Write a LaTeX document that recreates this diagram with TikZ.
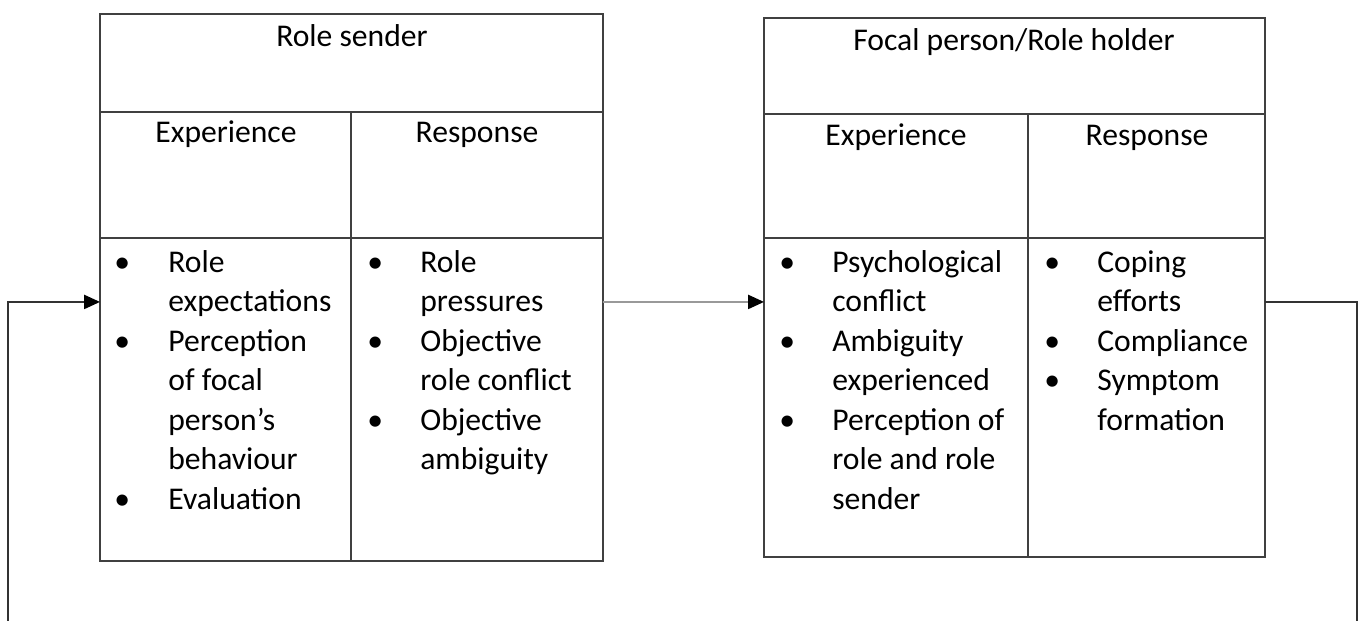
\documentclass[tikz,border=0pt]{standalone}
\usepackage{fontspec}
\setmainfont{Carlito}
\usepackage{tikz}
\usetikzlibrary{
        arrows.meta,
        positioning
    }
\tikzset{>={Triangle[length=9pt,width=8pt,color=black]},shorten >=0pt}
\tikzset{cell/.style={draw=black!75,line width=1pt,rectangle,inner sep=0pt,outer sep=0pt}}
\tikzset{head/.style={anchor=base,inner sep=0pt,font=\fontsize{18}{22.5}\selectfont}}
\tikzset{items/.style={anchor=north west,inner sep=0pt,font=\fontsize{18}{22.5}\selectfont,align=left}}
\tikzset{link/.style={draw=black!40,line width=1pt}}
\tikzset{back/.style={draw=black!80,line width=1pt}}
\newcommand{\bul}{\textbullet}

\begin{document}
\begin{tikzpicture}[x=0.02cm,y=-0.02cm]
\useasboundingbox (0,0) rectangle (1362,621);
    % role sender
    \node[cell,anchor=north west,minimum width=10.06cm,minimum height=1.96cm] (rsTitle) at (100,14) {};
    \node[cell,anchor=north west,minimum width=5.02cm,minimum height=2.52cm] (rsExpHead) at (rsTitle.south west) {};
    \node[cell,anchor=north west,minimum width=5.04cm,minimum height=2.52cm] (rsRespHead) at (rsExpHead.north east) {};
    \node[cell,anchor=north west,minimum width=5.02cm,minimum height=6.46cm] (rsExpBody) at (rsExpHead.south west) {};
    \node[cell,anchor=north west,minimum width=5.04cm,minimum height=6.46cm] (rsRespBody) at (rsRespHead.south west) {};
    \node[head] (rsTitleTxt) at (352,47) {Role sender};
    \node[head] (rsExpTxt) at (226,143) {Experience};
    \node[head] (rsRespTxt) at (477,143) {Response};
    \node[items] (rsExpList) at (114,244) {%
        \begin{tabular}{@{}p{1.08cm}@{}l@{}}
        \bul & Role\\
             & expectations\\
        \bul & Perception\\
             & of focal\\
             & person’s\\
             & behaviour\\
        \bul & Evaluation
        \end{tabular}};
    \node[items] (rsRespList) at (367,244) {%
        \begin{tabular}{@{}p{1.06cm}@{}l@{}}
        \bul & Role\\
             & pressures\\
        \bul & Objective\\
             & role conflict\\
        \bul & Objective\\
             & ambiguity
        \end{tabular}};

    % focal person
    \node[cell,anchor=north west,minimum width=10.02cm,minimum height=1.92cm] (fpTitle) at (764,18) {};
    \node[cell,anchor=north west,minimum width=5.28cm,minimum height=2.48cm] (fpExpHead) at (fpTitle.south west) {};
    \node[cell,anchor=north west,minimum width=4.74cm,minimum height=2.48cm] (fpRespHead) at (fpExpHead.north east) {};
    \node[cell,anchor=north west,minimum width=5.28cm,minimum height=6.38cm] (fpExpBody) at (fpExpHead.south west) {};
    \node[cell,anchor=north west,minimum width=4.74cm,minimum height=6.38cm] (fpRespBody) at (fpRespHead.south west) {};
    \node[head] (fpTitleTxt) at (1014,51) {Focal person/Role holder};
    \node[head] (fpExpTxt) at (896,146) {Experience};
    \node[head] (fpRespTxt) at (1147,146) {Response};
    \node[items] (fpExpList) at (779,244) {%
        \begin{tabular}{@{}p{1.06cm}@{}l@{}}
        \bul & Psychological\\
             & conflict\\
        \bul & Ambiguity\\
             & experienced\\
        \bul & Perception of\\
             & role and role\\
             & sender
        \end{tabular}};
    \node[items] (fpRespList) at (1044,244) {%
        \begin{tabular}{@{}p{1.06cm}@{}l@{}}
        \bul & Coping\\
             & efforts\\
        \bul & Compliance\\
        \bul & Symptom\\
             & formation
        \end{tabular}};

    % links
    \coordinate (fbLeft) at (8,621);
    \coordinate (fbRight) at (1357,621);
    \draw[link,->] ([yshift=-1.28cm]rsRespBody.north east) -- ([yshift=-1.28cm]fpExpBody.north west);
    \draw[back] ([yshift=-1.28cm]fpRespBody.north east) -| (fbRight);
    \draw[back,->] (fbLeft) |- ([yshift=-1.28cm]rsExpBody.north west);
\end{tikzpicture}
\end{document}
